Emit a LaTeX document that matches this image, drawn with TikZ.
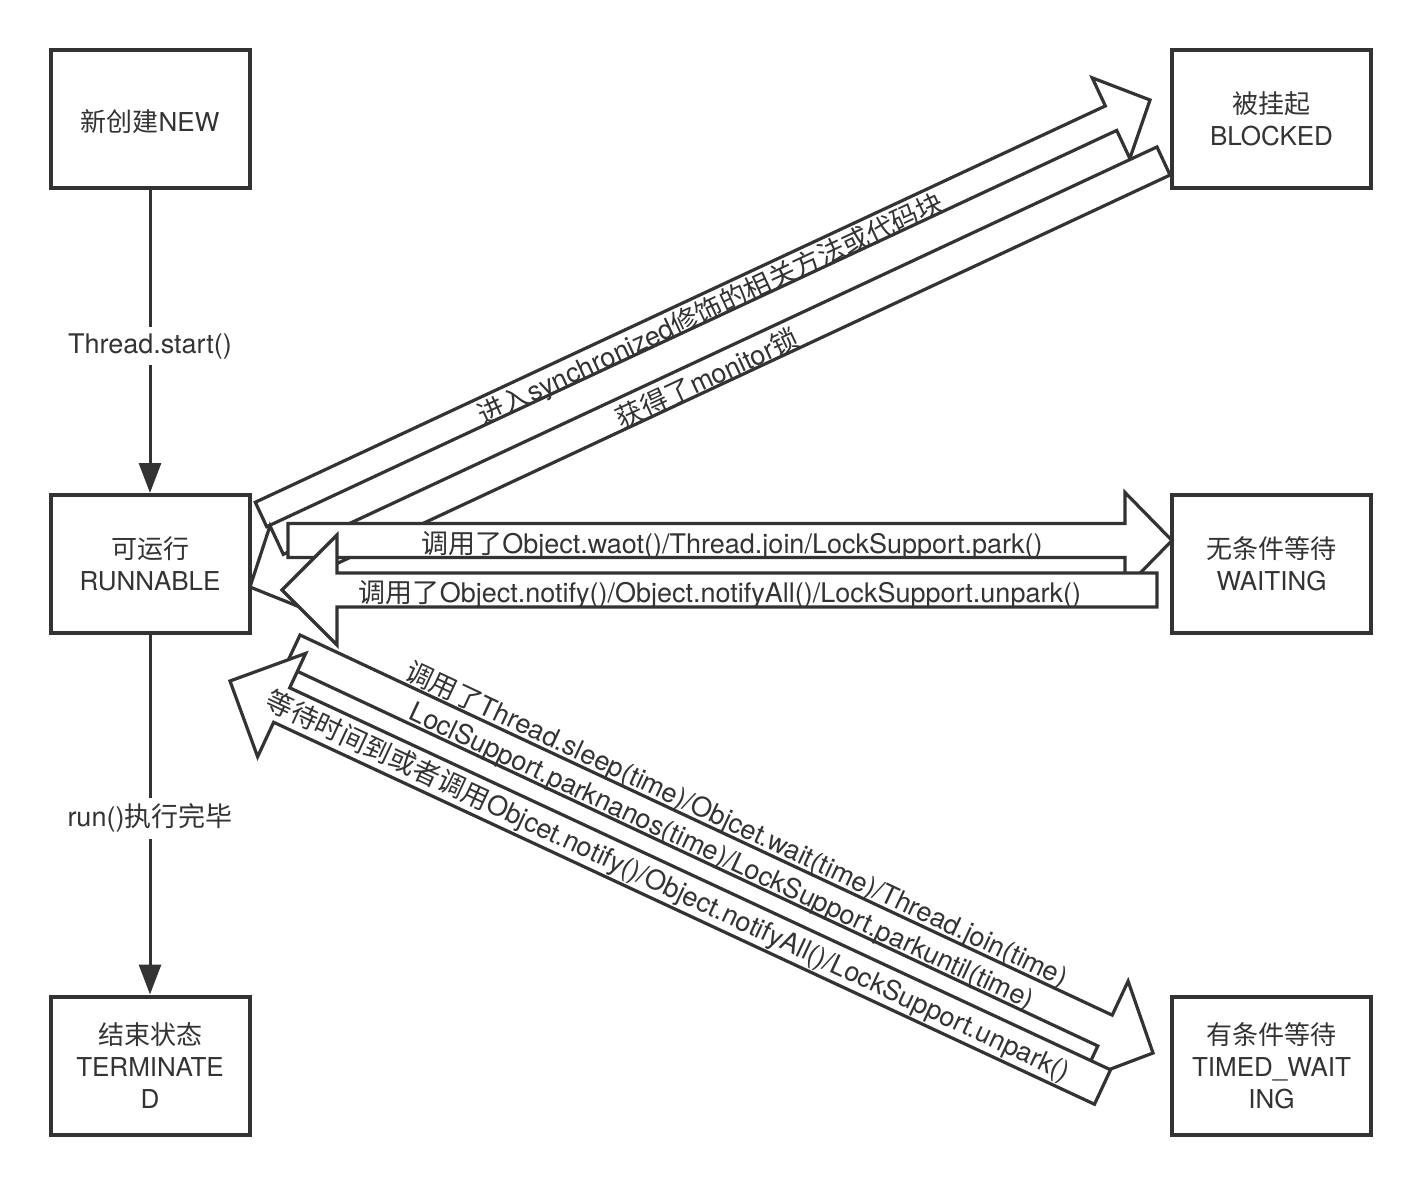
\documentclass[tikz,border=0pt]{standalone}
\usepackage{fontspec}
\setmainfont{TeX Gyre Heros}
\newfontfamily\cjk{Noto Sans CJK SC}
\usetikzlibrary{calc,arrows.meta}
\definecolor{ink}{HTML}{333333}

\tikzset{
  state/.style={draw=ink, line width=2pt, minimum width=99.5pt, minimum height=69pt,
    align=center, text=ink, inner sep=1pt, font=\fontsize{13}{16}\selectfont,
    execute at begin node=\rule{0pt}{13.9pt}},
  flow/.style={draw=ink, line width=1.5pt, -{Triangle[length=15pt,width=11pt]}},
  flexarr/.style={draw=ink, line width=1.6pt, fill=white, line join=miter},
  lbl/.style={text=ink, inner sep=0pt, align=center, font=\fontsize{13.5}{17.5}\selectfont},
}

% wide arrow: tail, tip, half body, half head, head length
\newcommand{\flexarrow}[5]{%
  \coordinate (#1-h) at ($(#2)!#5!(#1)$);
  \draw[flexarr] ($(#1)!#3!90:(#2)$) -- ($(#1-h)!#3!90:(#2)$) -- ($(#1-h)!#4!90:(#2)$)
    -- (#2) -- ($(#1-h)!#4!-90:(#2)$) -- ($(#1-h)!#3!-90:(#2)$) -- ($(#1)!#3!-90:(#2)$) -- cycle;
}

\begin{document}
\begin{tikzpicture}[x=0.5pt,y=0.5pt]
\useasboundingbox (0,0) rectangle (1422,-1187);

\node[state] (new) at (150,-119) {{\cjk 新创建}NEW};
\node[state] (run) at (150,-564) {{\cjk 可运行}\\RUNNABLE};
\node[state] (term) at (150,-1065.5) {{\cjk 结束状态}\\TERMINATE\\D};
\node[state] (blk) at (1271.5,-119) {{\cjk 被挂起}\\BLOCKED};
\node[state] (wait) at (1271.5,-564) {{\cjk 无条件等待}\\WAITING};
\node[state] (tw) at (1271.5,-1065.5) {{\cjk 有条件等待}\\TIMED\_WAIT\\ING};

\draw[flow] (new) -- node[lbl, fill=white, inner sep=3pt, pos=0.515] (startL) {Thread.start()} (run);
\draw[flow] (run) -- node[lbl, fill=white, inner sep=3pt, pos=0.51] (doneL) {run(){\cjk 执行完毕}} (term);

% wide arrows
\coordinate (syncS) at (261,-514.5);
\coordinate (syncE) at (1150,-100);
\coordinate (lockS) at (1163.5,-161);
\coordinate (lockE) at (250,-587);
\coordinate (waitS) at (288,-540.5);
\coordinate (waitE) at (1172,-540.5);
\coordinate (notifyS) at (1157,-590);
\coordinate (notifyE) at (282,-590);
\coordinate (timedS) at (292.8,-650.4);
\coordinate (timedE) at (1153,-1053);
\coordinate (backS) at (1102.5,-1087);
\coordinate (backE) at (230,-681);

\flexarrow{syncS}{syncE}{6.75pt}{22.25pt}{21.5pt}
\flexarrow{lockS}{lockE}{7.75pt}{23.5pt}{22pt}
\flexarrow{waitS}{waitE}{8.5pt}{24pt}{23.5pt}
\flexarrow{notifyS}{notifyE}{8.5pt}{27.5pt}{27.5pt}
\flexarrow{timedS}{timedE}{8.5pt}{27.25pt}{26.5pt}
\flexarrow{backS}{backE}{9.5pt}{28.5pt}{28.5pt}

\node[lbl, rotate=25] (syncL) at (711,-310) {{\cjk 进入}synchronized{\cjk 修饰的相关方法或代码块}};
\node[lbl, rotate=25] (lockL) at (707,-378) {{\cjk 获得了}monitor{\cjk 锁}};
\node[lbl] (waitL) at (732,-545) {{\cjk 调用了}Object.waot()/Thread.join/LockSupport.park()};
\node[lbl] (notifyL) at (720,-594) {{\cjk 调用了}Object.notify()/Object.notifyAll()/LockSupport.unpark()};
\node[lbl, rotate=-25.1] (timedL) at (729,-841) {{\cjk 调用了}Thread.sleep(time)/Objcet.wait(time)/Thread.join(time)\\LoclSupport.parknanos(time)/LockSupport.parkuntil(time)};
\node[lbl, rotate=-25] (backL) at (668,-887) {{\cjk 等待时间到或者调用}Objcet.notify()/Object.notifyAll()/LockSupport.unpark()};
\end{tikzpicture}
\end{document}
